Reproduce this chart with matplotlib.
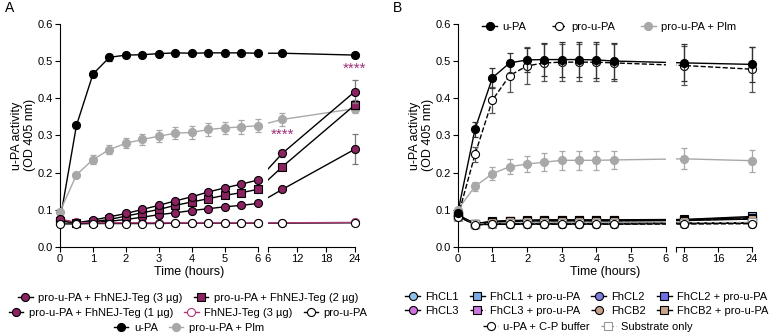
import numpy as np
import matplotlib
matplotlib.use('Agg')
import matplotlib.pyplot as plt
from matplotlib.lines import Line2D

plt.rcParams['font.family'] = ['Liberation Sans', 'DejaVu Sans']
plt.rcParams['font.size'] = 8

PURPLE = '#8B2261'
PINK = '#B0387A'
GREY = '#A8A8A8'

# ---------------- panel A data ----------------
t_a = [0, 0.5, 1, 1.5, 2, 2.5, 3, 3.5, 4, 4.5, 5, 5.5, 6, 9, 24]
upa_a = [0.071, 0.327, 0.465, 0.510, 0.516, 0.517, 0.520, 0.522, 0.521, 0.522, 0.522, 0.522, 0.521, 0.521, 0.516]
upa_a_err = [0.003, 0.006, 0.009, 0.009, 0.006, 0.005, 0.004, 0.004, 0.004, 0.004, 0.004, 0.004, 0.004, 0.004, 0.004]
plm_a = [0.095, 0.194, 0.235, 0.262, 0.279, 0.289, 0.298, 0.306, 0.308, 0.316, 0.320, 0.323, 0.326, 0.343, 0.372]
plm_a_err = [0.006, 0.005, 0.012, 0.013, 0.013, 0.015, 0.016, 0.017, 0.018, 0.018, 0.017, 0.018, 0.017, 0.017, 0.013]
teg3 = [0.074, 0.065, 0.072, 0.081, 0.090, 0.101, 0.112, 0.124, 0.135, 0.148, 0.159, 0.169, 0.180, 0.252, 0.418]
teg3_err = [0.003, 0.002, 0.002, 0.002, 0.002, 0.002, 0.002, 0.003, 0.003, 0.003, 0.003, 0.003, 0.003, 0.010, 0.030]
teg2 = [0.070, 0.065, 0.068, 0.074, 0.083, 0.092, 0.101, 0.112, 0.121, 0.130, 0.139, 0.146, 0.155, 0.216, 0.382]
teg2_err = [0.003, 0.002, 0.002, 0.002, 0.002, 0.002, 0.002, 0.003, 0.003, 0.003, 0.003, 0.003, 0.003, 0.006, 0.012]
teg1 = [0.070, 0.065, 0.066, 0.069, 0.074, 0.080, 0.087, 0.092, 0.098, 0.103, 0.108, 0.112, 0.117, 0.155, 0.263]
teg1_err = [0.003, 0.002, 0.002, 0.002, 0.002, 0.002, 0.002, 0.002, 0.002, 0.002, 0.002, 0.002, 0.003, 0.005, 0.040]
teg_only = [0.075, 0.066, 0.065, 0.065, 0.065, 0.065, 0.065, 0.065, 0.065, 0.065, 0.065, 0.065, 0.065, 0.065, 0.066]
prou_a = [0.062, 0.062, 0.063, 0.063, 0.063, 0.063, 0.063, 0.064, 0.064, 0.064, 0.064, 0.064, 0.064, 0.064, 0.065]

# ---------------- panel B data ----------------
t_b = [0, 0.5, 1, 1.5, 2, 2.5, 3, 3.5, 4, 4.5, 8, 24]
upa_b = [0.091, 0.317, 0.455, 0.495, 0.503, 0.504, 0.504, 0.504, 0.503, 0.500, 0.495, 0.491]
upa_b_err = [0.005, 0.020, 0.027, 0.027, 0.033, 0.045, 0.048, 0.048, 0.048, 0.048, 0.050, 0.048]
prou_b = [0.080, 0.249, 0.395, 0.461, 0.487, 0.495, 0.497, 0.497, 0.497, 0.495, 0.488, 0.478]
prou_b_err = [0.005, 0.020, 0.035, 0.043, 0.050, 0.050, 0.050, 0.050, 0.050, 0.050, 0.053, 0.060]
plm_b = [0.100, 0.163, 0.197, 0.216, 0.223, 0.228, 0.233, 0.233, 0.233, 0.234, 0.237, 0.232]
plm_b_err = [0.005, 0.012, 0.017, 0.020, 0.022, 0.024, 0.025, 0.025, 0.025, 0.025, 0.028, 0.030]

fhcl1 = [0.086, 0.060, 0.062, 0.062, 0.063, 0.063, 0.063, 0.063, 0.063, 0.063, 0.064, 0.065]
fhcl3 = [0.084, 0.061, 0.062, 0.063, 0.063, 0.063, 0.063, 0.063, 0.063, 0.063, 0.064, 0.064]
fhcl2 = [0.085, 0.060, 0.061, 0.062, 0.062, 0.062, 0.062, 0.062, 0.062, 0.062, 0.063, 0.064]
fhcb2 = [0.083, 0.061, 0.061, 0.062, 0.062, 0.062, 0.062, 0.062, 0.062, 0.062, 0.063, 0.063]
fhcl1_pro = [0.086, 0.063, 0.069, 0.071, 0.072, 0.073, 0.073, 0.073, 0.073, 0.073, 0.074, 0.082]
fhcl3_pro = [0.084, 0.062, 0.067, 0.069, 0.070, 0.071, 0.071, 0.071, 0.071, 0.071, 0.072, 0.076]
fhcl2_pro = [0.085, 0.063, 0.068, 0.070, 0.071, 0.072, 0.072, 0.072, 0.072, 0.072, 0.073, 0.079]
fhcb2_pro = [0.083, 0.062, 0.067, 0.069, 0.070, 0.070, 0.070, 0.070, 0.070, 0.070, 0.071, 0.075]
upa_cp = [0.082, 0.060, 0.061, 0.062, 0.062, 0.062, 0.062, 0.062, 0.062, 0.062, 0.062, 0.063]
substrate = [0.080, 0.062, 0.063, 0.064, 0.064, 0.064, 0.064, 0.064, 0.064, 0.064, 0.065, 0.066]

ticks_a1 = [0, 1, 2, 3, 4, 5, 6]
ticks_a2 = [6, 12, 18, 24]
ticks_b1 = [0, 1, 2, 3, 4, 5, 6]
ticks_b2 = [6, 8, 16, 24]
ticklabels_b2 = ['', '8', '16', '24']


def broken(gap, k):
    # first segment 0-6 h linear, second segment 6-24 h compressed after a gap
    def pos(t):
        t = np.asarray(t, float)
        return np.where(t <= 6, t, 6 + gap + (t - 6) * k)

    def pos2(t):
        return 6 + gap + (np.asarray(t, float) - 6) * k
    return pos, pos2


pos_a, pos2_a = broken(0.303, 0.1465)
pos_b, pos2_b = broken(0.288, 0.122)


def series(ax, pos, t, y, err=None, color='k', mfc='k', mec='k', marker='o',
           ls='-', z=3, ecolor=None):
    x = pos(t)
    ax.plot(x, y, color=color, ls=ls, lw=1.0, zorder=2, clip_on=False)
    if err is not None:
        ax.errorbar(x, y, yerr=err, fmt='none', ecolor=ecolor or color,
                    elinewidth=0.9, capsize=2.3, capthick=0.9, zorder=z - 0.1,
                    clip_on=False)
    ax.plot(x, y, ls='none', marker=marker, mfc=mfc, mec=mec, ms=5.8,
            mew=0.8, zorder=z, clip_on=False)


def style_axis(ax, pos2, gap, t1, t2, labels2):
    ax.set_ylim(0, 0.6)
    ax.set_xlim(0, float(pos2(24)))
    ax.set_yticks(np.arange(0, 0.61, 0.1))
    ax.set_yticklabels(['%.1f' % v for v in np.arange(0, 0.61, 0.1)])
    for s in ['top', 'right', 'bottom']:
        ax.spines[s].set_visible(False)
    ax.spines['left'].set_linewidth(0.8)
    xt = list(t1) + list(pos2(t2))
    ax.set_xticks(xt)
    ax.set_xticklabels([str(v) for v in t1] + labels2)
    ax.tick_params(direction='out', length=3.5, width=0.8, pad=1.5, labelsize=8)
    # blank the gap between the two x segments
    ax.axvspan(6, 6 + gap, color='white', lw=0, zorder=2.5)
    ax.plot([0, 6], [0, 0], color='k', lw=0.8, clip_on=False, zorder=4)
    ax.plot([float(pos2(6)), float(pos2(24))], [0, 0], color='k', lw=0.8,
            clip_on=False, zorder=4)
    ax.set_ylabel('u-PA activity\n(OD 405 nm)', fontsize=9, labelpad=1,
                  linespacing=1.15)


fig = plt.figure(figsize=(7.78, 3.36), dpi=100)
axA = fig.add_axes([0.0771, 0.265, 0.3791, 0.664])
axB = fig.add_axes([0.5883, 0.265, 0.3783, 0.664])

# ---------------- panel A ----------------
series(axA, pos_a, t_a, upa_a, upa_a_err, 'k', 'k', 'k', 'o', z=6)
series(axA, pos_a, t_a, plm_a, plm_a_err, GREY, GREY, GREY, 'o', z=5)
series(axA, pos_a, t_a, teg1, teg1_err, 'k', PURPLE, 'k', 'o', z=7, ecolor='#777777')
series(axA, pos_a, t_a, teg2, teg2_err, 'k', PURPLE, 'k', 's', z=8, ecolor='#777777')
series(axA, pos_a, t_a, teg3, teg3_err, 'k', PURPLE, 'k', 'o', z=9, ecolor='#777777')
series(axA, pos_a, t_a, prou_a, None, 'k', 'white', 'k', 'o', z=10)
series(axA, pos_a, t_a, teg_only, None, PINK, 'white', PINK, 'o', z=4)
style_axis(axA, pos2_a, 0.303, ticks_a1, ticks_a2, [str(v) for v in ticks_a2])
axA.set_xlabel('Time (hours)', fontsize=9)
axA.xaxis.set_label_coords(0.437, -0.085)
axA.text(float(pos2_a(24)), 0.478, '****', color='#9B2F76', ha='center',
         va='center', fontsize=11)
axA.text(float(pos2_a(9)), 0.301, '****', color='#9B2F76', ha='center',
         va='center', fontsize=11)

# ---------------- panel B ----------------
low = [
    (fhcl1, '#8EC3EE', 'o', '-', 'FhCL1'),
    (fhcl3, '#D070E0', 'o', '-', 'FhCL3'),
    (fhcl1_pro, '#7BAAE8', 's', '-', 'FhCL1 + pro-u-PA'),
    (fhcl3_pro, '#CC77E0', 's', '--', 'FhCL3 + pro-u-PA'),
    (fhcl2, '#7E7EE0', 'o', '-', 'FhCL2'),
    (fhcb2, '#C9A08E', 'o', '--', 'FhCB2'),
    (fhcl2_pro, '#6F6FE8', 's', '-', 'FhCL2 + pro-u-PA'),
    (fhcb2_pro, '#C9A48A', 's', '-', 'FhCB2 + pro-u-PA'),
]
z = 3
for vals, col, mk, ls, name in low:
    series(axB, pos_b, t_b, vals, None, 'k', col, 'k', mk, ls=ls, z=z)
    z += 0.2
series(axB, pos_b, t_b, substrate, None, '#999999', 'white', '#999999', 's', ls='--', z=5)
series(axB, pos_b, t_b, upa_cp, None, 'k', 'white', 'k', 'o', ls='--', z=5.5)
series(axB, pos_b, t_b, plm_b, plm_b_err, GREY, GREY, GREY, 'o', z=6)
series(axB, pos_b, t_b, prou_b, prou_b_err, 'k', 'white', 'k', 'o', ls='--', z=7,
       ecolor='#555555')
series(axB, pos_b, t_b, upa_b, upa_b_err, 'k', 'k', 'k', 'o', z=8, ecolor='#333333')
style_axis(axB, pos2_b, 0.288, ticks_b1, ticks_b2, ticklabels_b2)
axB.set_xlabel('Time (hours)', fontsize=9)
axB.xaxis.set_label_coords(0.5, -0.085)

fig.text(0.006, 0.975, 'A', fontsize=10, va='center')
fig.text(0.505, 0.975, 'B', fontsize=10, va='center')


def h(mfc, mec, marker='o', color='k', ls='-'):
    return Line2D([], [], color=color, ls=ls, lw=1.0, marker=marker, mfc=mfc,
                  mec=mec, ms=5.8, mew=0.8)


leg_kw = dict(frameon=False, fontsize=8, handlelength=1.3, handletextpad=0.5,
              columnspacing=1.0, borderpad=0.1, loc='center')

# legend inside B
axB.legend([h('k', 'k'), h('white', 'k', ls='--'), h(GREY, GREY, color=GREY)],
           ['u-PA', 'pro-u-PA', 'pro-u-PA + Plm'], ncol=3,
           bbox_to_anchor=(0.515, 0.985), **dict(leg_kw, columnspacing=2.3))

# legends under A
fig.legend([h(PURPLE, 'k'), h(PURPLE, 'k', 's')],
           ['pro-u-PA + FhNEJ-Teg (3 µg)', 'pro-u-PA + FhNEJ-Teg (2 µg)'],
           ncol=2, bbox_to_anchor=(188 / 778, 1 - 298 / 336), **leg_kw)
fig.legend([h(PURPLE, 'k'), h('white', PINK, color=PINK), h('white', 'k')],
           ['pro-u-PA + FhNEJ-Teg (1 µg)', 'FhNEJ-Teg (3 µg)', 'pro-u-PA'],
           ncol=3, bbox_to_anchor=(188 / 778, 1 - 313 / 336), **leg_kw)
fig.legend([h('k', 'k'), h(GREY, GREY, color=GREY)],
           ['u-PA', 'pro-u-PA + Plm'],
           ncol=2, bbox_to_anchor=(189 / 778, 1 - 328 / 336), **leg_kw)

# legends under B
fig.legend([h(c, 'k', m, ls=l) for _, c, m, l, _ in low],
           [n for *_, n in low], ncol=4,
           bbox_to_anchor=(587 / 778, 1 - 304 / 336), **dict(leg_kw, labelspacing=0.35))
fig.legend([h('white', 'k', ls='--'), h('white', '#999999', 's', color='#999999', ls='--')],
           ['u-PA + C-P buffer', 'Substrate only'], ncol=2,
           bbox_to_anchor=(588 / 778, 1 - 327 / 336), **leg_kw)

fig.savefig('out.png', dpi=100)
